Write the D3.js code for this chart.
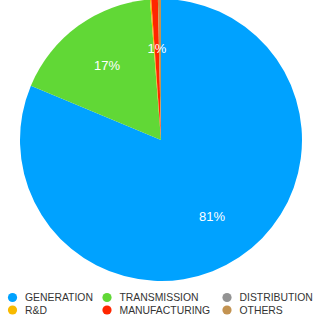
<!DOCTYPE html>
<html>
<head>
<meta charset="utf-8">
<script src="https://cdn.jsdelivr.net/npm/d3@7"></script>
<style>
  body { margin: 0; background: #fff; }
  text { font-family: "Liberation Sans", Arial, sans-serif; }
</style>
</head>
<body>
<script>
'use strict';

const categories = ["GENERATION", "TRANSMISSION", "DISTRIBUTION", "R&D", "MANUFACTURING", "OTHERS"]
const shares = [81.3, 17.45, 0, 0.15, 0.75, 0.35]
const colors = ["#00A2FF", "#61D836", "#939393", "#F8BA00", "#FF2600", "#C39351"]

const m = {
  width: 320,
  height: 316,
  cx: 161,
  cy: 140,
  r: 141
}

const svg = d3.select('body')
  .append('svg')
  .attr('width', m.width)
  .attr('height', m.height)

const data = categories.map((c, i) => ({ name: c, value: shares[i], color: colors[i] }))

const pie = d3.pie()
  .sort(null)
  .value((d) => d.value)

const arc = d3.arc()
  .innerRadius(0)
  .outerRadius(m.r)

const labelArc = d3.arc()
  .innerRadius(92)
  .outerRadius(92)

const g = svg.append('g')
  .attr('transform', 'translate(' + m.cx + ',' + m.cy + ')')

const arcs = pie(data)

g.selectAll('path')
  .data(arcs)
  .enter()
  .append('path')
    .attr('d', arc)
    .style('fill', (d) => d.data.color)

g.selectAll('text.pct')
  .data(arcs.filter((d) => Math.round(d.data.value) >= 1))
  .enter()
  .append('text')
    .attr('class', 'pct')
    .attr('transform', (d) => 'translate(' + labelArc.centroid(d) + ')')
    .attr('text-anchor', 'middle')
    .attr('dominant-baseline', 'central')
    .style('font-size', '13px')
    .style('fill', 'white')
    .text((d) => Math.round(d.data.value) + '%')

// legend: 3 columns, 2 rows
const colX = [12.5, 107, 227]
const rowY = [297.5, 310]

const legend = svg.selectAll('g.legend')
  .data(data)
  .enter()
  .append('g')
    .attr('class', 'legend')
    .attr('transform', (d, i) => 'translate(' + colX[i % 3] + ',' + rowY[Math.floor(i / 3)] + ')')

legend.append('circle')
  .attr('r', 4.6)
  .style('fill', (d) => d.color)

legend.append('text')
  .attr('x', 12.5)
  .attr('dominant-baseline', 'central')
  .style('font-size', '10.4px')
  .style('fill', '#333')
  .text((d) => d.name)
</script>
</body>
</html>
